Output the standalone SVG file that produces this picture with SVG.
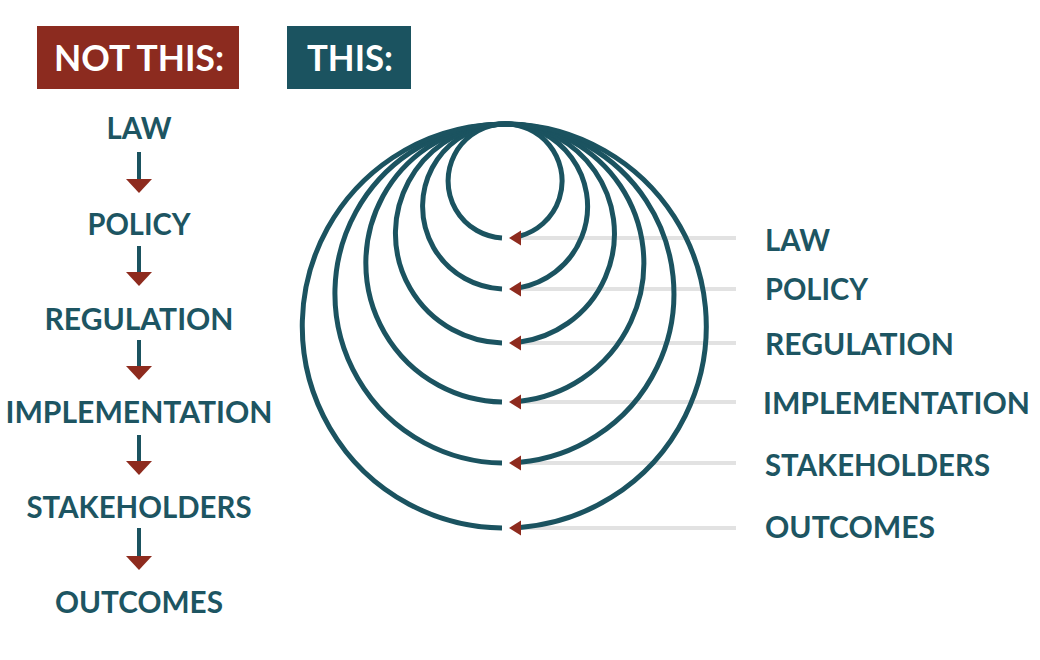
<svg xmlns="http://www.w3.org/2000/svg" width="1040" height="660" viewBox="0 0 1040 660">
<style>
.lbl{font-family:Lato,"Open Sans","Liberation Sans",sans-serif;font-weight:700;font-size:31px;fill:#1d5562}
.hdr{font-family:Lato,"Open Sans","Liberation Sans",sans-serif;font-weight:700;font-size:36px;fill:#ffffff}
.ring{fill:none;stroke:#1b5360;stroke-width:5}
.lead{stroke:#e2e2e2;stroke-width:4}
.shaft{stroke:#1b5360;stroke-width:4}
.head{fill:#8e2b1e}
</style>
<rect width="1040" height="660" fill="#ffffff"/>
<g id="hdr-not">
<rect x="37" y="26" width="202" height="63" fill="#8c2b1f"/>
<text class="hdr" x="139" y="71" text-anchor="middle" textLength="170" lengthAdjust="spacingAndGlyphs">NOT THIS:</text>
</g>
<g id="hdr-this">
<rect x="287" y="26" width="124" height="63" fill="#1b5360"/>
<text class="hdr" x="350" y="71" text-anchor="middle" textLength="86" lengthAdjust="spacingAndGlyphs">THIS:</text>
</g>
<g id="connectors">
<g id="left-arrows">
<line class="shaft" x1="139" y1="152" x2="139" y2="180"/><polygon class="head" points="126,179 152,179 139,193"/>
<line class="shaft" x1="139" y1="246" x2="139" y2="273"/><polygon class="head" points="126,272 152,272 139,286"/>
<line class="shaft" x1="139" y1="340" x2="139" y2="367"/><polygon class="head" points="126,366 152,366 139,380"/>
<line class="shaft" x1="139" y1="435" x2="139" y2="462"/><polygon class="head" points="126,461 152,461 139,475"/>
<line class="shaft" x1="139" y1="528" x2="139" y2="556"/><polygon class="head" points="126,556 152,556 139,570"/>
</g>
<g id="leaders">
<line class="lead" x1="520" y1="238" x2="736" y2="238"/>
<line class="lead" x1="520" y1="289" x2="736" y2="289"/>
<line class="lead" x1="520" y1="343" x2="736" y2="343"/>
<line class="lead" x1="520" y1="402" x2="736" y2="402"/>
<line class="lead" x1="520" y1="463" x2="736" y2="463"/>
<line class="lead" x1="520" y1="528" x2="736" y2="528"/>
</g>
<g id="rings">
<path class="ring" d="M502 237.9 A57 57 0 1 1 520 236"/>
<path class="ring" d="M502 288.9 A82.5 82.5 0 1 1 520 287.6"/>
<path class="ring" d="M502 343 A109.5 109.5 0 1 1 520 342"/>
<path class="ring" d="M502 402 A139 139 0 1 1 520 401.2"/>
<path class="ring" d="M502 463 A169.5 169.5 0 1 1 520 462.3"/>
<path class="ring" d="M502 528 A202 202 0 1 1 520 527.4"/>
<polygon class="head" points="509,238 521,230.5 521,245.5"/>
<polygon class="head" points="509,289 521,281.5 521,296.5"/>
<polygon class="head" points="509,343 521,335.5 521,350.5"/>
<polygon class="head" points="509,402 521,394.5 521,409.5"/>
<polygon class="head" points="509,463 521,455.5 521,470.5"/>
<polygon class="head" points="509,528 521,520.5 521,535.5"/>
</g>
</g>
<g id="left-law"><text class="lbl" x="139" y="139" text-anchor="middle" textLength="65" lengthAdjust="spacingAndGlyphs">LAW</text></g>
<g id="left-policy"><text class="lbl" x="139" y="235" text-anchor="middle" textLength="103" lengthAdjust="spacingAndGlyphs">POLICY</text></g>
<g id="left-regulation"><text class="lbl" x="139" y="330" text-anchor="middle" textLength="189" lengthAdjust="spacingAndGlyphs">REGULATION</text></g>
<g id="left-implementation"><text class="lbl" x="139" y="423" text-anchor="middle" textLength="267" lengthAdjust="spacingAndGlyphs">IMPLEMENTATION</text></g>
<g id="left-stakeholders"><text class="lbl" x="139" y="518" text-anchor="middle" textLength="225" lengthAdjust="spacingAndGlyphs">STAKEHOLDERS</text></g>
<g id="left-outcomes"><text class="lbl" x="139" y="613" text-anchor="middle" textLength="168" lengthAdjust="spacingAndGlyphs">OUTCOMES</text></g>
<g id="right-law"><text class="lbl" x="765" y="251" textLength="65" lengthAdjust="spacingAndGlyphs">LAW</text></g>
<g id="right-policy"><text class="lbl" x="765" y="300" textLength="103" lengthAdjust="spacingAndGlyphs">POLICY</text></g>
<g id="right-regulation"><text class="lbl" x="765" y="355" textLength="189" lengthAdjust="spacingAndGlyphs">REGULATION</text></g>
<g id="right-implementation"><text class="lbl" x="763" y="414" textLength="267" lengthAdjust="spacingAndGlyphs">IMPLEMENTATION</text></g>
<g id="right-stakeholders"><text class="lbl" x="765" y="476" textLength="225" lengthAdjust="spacingAndGlyphs">STAKEHOLDERS</text></g>
<g id="right-outcomes"><text class="lbl" x="765" y="538" textLength="170" lengthAdjust="spacingAndGlyphs">OUTCOMES</text></g>
</svg>
